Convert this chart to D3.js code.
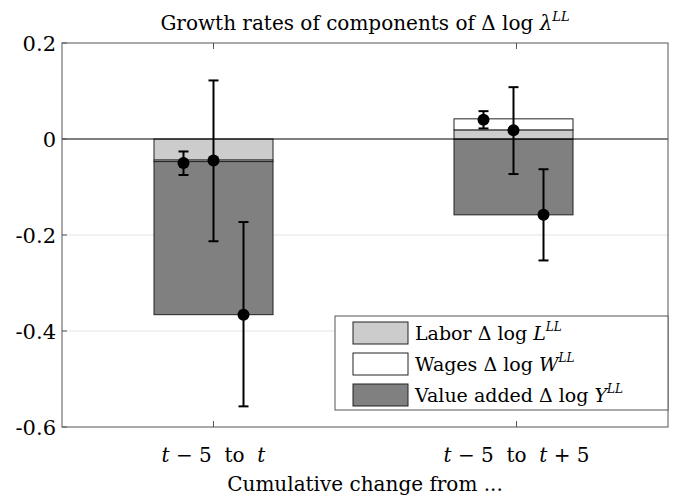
<!DOCTYPE html>
<html><head><meta charset="utf-8">
<script src="https://cdn.jsdelivr.net/npm/d3@7"></script>
<style>
body{margin:0;background:#fff}
svg text{font-family:'DejaVu Serif','Liberation Serif','Times New Roman',serif;fill:#000;white-space:pre}
.m{font-style:italic}
</style></head><body>
<svg id="c" width="676" height="497"></svg>
<script>
var categories = ["t5t", "t5t5"];
// stacked segments [from, to] per category
var laborSeg = [[0, -0.044], [0, 0.019]];
var wagesSeg = [[-0.044, -0.047], [0.019, 0.042]];
var valueSeg = [[-0.047, -0.366], [0, -0.158]];
// point estimates and bounds
var laborPt = [-0.05, 0.04], laborLo = [-0.075, 0.022], laborHi = [-0.026, 0.058];
var wagesPt = [-0.045, 0.018], wagesLo = [-0.213, -0.073], wagesHi = [0.122, 0.108];
var valuePt = [-0.366, -0.158], valueLo = [-0.557, -0.253], valueHi = [-0.173, -0.063];
var yTicks = [0.2, 0, -0.2, -0.4, -0.6];

var L = 62, R = 668, T = 43, B = 427;
var svg = d3.select("#c");
var x = d3.scaleLinear().domain([0.5, 2.5]).range([L, R]);
var y = d3.scaleLinear().domain([-0.6, 0.2]).range([B, T]);

// grid
svg.selectAll(".g").data([-0.2, -0.4]).enter().append("line")
  .attr("x1", L).attr("x2", R).attr("y1", d => y(d)).attr("y2", d => y(d))
  .attr("stroke", "#e3e3e3");

var bw = 119;
function seg(data, fill) {
  svg.append("g").selectAll("rect").data(data).enter().append("rect")
    .attr("x", (d, i) => x(i + 1) - bw / 2 - (i ? 3 : 0)).attr("width", bw)
    .attr("y", d => y(Math.max(d[0], d[1])))
    .attr("height", d => Math.abs(y(d[0]) - y(d[1])))
    .attr("fill", fill).attr("stroke", "#222").attr("stroke-width", 1);
}
seg(valueSeg, "#808080");
seg(laborSeg, "#cccccc");
seg(wagesSeg, "#ffffff");

// zero line
svg.append("line").attr("x1", L).attr("x2", R).attr("y1", y(0)).attr("y2", y(0))
  .attr("stroke", "#000").attr("stroke-width", 1);

function pts(pt, lo, hi, off) {
  var g = svg.append("g");
  pt.forEach(function(v, i) {
    var cx = x(i + 1) + off - (i ? 3 : 0);
    g.append("line").attr("x1", cx).attr("x2", cx).attr("y1", y(lo[i])).attr("y2", y(hi[i]))
      .attr("stroke", "#000").attr("stroke-width", 2);
    [lo[i], hi[i]].forEach(function(e) {
      g.append("line").attr("x1", cx - 5).attr("x2", cx + 5).attr("y1", y(e)).attr("y2", y(e))
        .attr("stroke", "#000").attr("stroke-width", 2);
    });
    g.append("circle").attr("cx", cx).attr("cy", y(v)).attr("r", 6).attr("fill", "#000");
  });
}
pts(laborPt, laborLo, laborHi, -30);
pts(wagesPt, wagesLo, wagesHi, 0);
pts(valuePt, valueLo, valueHi, 30);

// frame
svg.append("rect").attr("x", L).attr("y", T).attr("width", R - L).attr("height", B - T)
  .attr("fill", "none").attr("stroke", "#555");
svg.selectAll(".yt").data(yTicks).enter().append("text")
  .attr("x", L - 6).attr("y", d => y(d) + 8).attr("text-anchor", "end")
  .attr("font-size", 21).text(d => d === 0 ? "0" : d3.format(".1f")(d).replace("\u2212", "-"));
svg.selectAll(".yk").data(yTicks).enter().append("line")
  .attr("x1", L).attr("x2", L + 5).attr("y1", d => y(d)).attr("y2", d => y(d)).attr("stroke", "#555");
[1, 2].forEach(function(c) {
  svg.append("line").attr("x1", x(c)).attr("x2", x(c)).attr("y1", B).attr("y2", B - 6).attr("stroke", "#555");
  svg.append("line").attr("x1", x(c)).attr("x2", x(c)).attr("y1", T).attr("y2", T + 6).attr("stroke", "#555");
});

// x labels
var xl1 = svg.append("text").attr("x", x(1)).attr("y", 462).attr("text-anchor", "middle").attr("font-size", 20);
xl1.append("tspan").attr("class", "m").text("t");
xl1.append("tspan").text(" \u2212 5  to  ");
xl1.append("tspan").attr("class", "m").text("t");
var xl2 = svg.append("text").attr("x", x(2)).attr("y", 462).attr("text-anchor", "middle").attr("font-size", 20);
xl2.append("tspan").attr("class", "m").text("t");
xl2.append("tspan").text(" \u2212 5  to  ");
xl2.append("tspan").attr("class", "m").text("t");
xl2.append("tspan").text(" + 5");
svg.append("text").attr("x", (L + R) / 2).attr("y", 491).attr("text-anchor", "middle")
  .attr("font-size", 20).text("Cumulative change from ...");

// title
var tt = svg.append("text").attr("x", (L + R) / 2).attr("y", 30).attr("text-anchor", "middle").attr("font-size", 20);
tt.append("tspan").text("Growth rates of components of \u0394 log ");
tt.append("tspan").attr("class", "m").text("\u03bb");
tt.append("tspan").attr("class", "m").attr("font-size", 13).attr("dy", -9).text("LL");

// legend
var lg = svg.append("g").attr("transform", "translate(335,316)");
lg.append("rect").attr("width", 333).attr("height", 94).attr("fill", "#fff").attr("stroke", "#555");
var legItems = [["Labor", "L", "#cccccc"], ["Wages", "W", "#ffffff"], ["Value added", "Y", "#808080"]];
legItems.forEach(function(d, i) {
  var yy = 6 + i * 31;
  lg.append("rect").attr("x", 18).attr("y", yy).attr("width", 55).attr("height", 22)
    .attr("fill", d[2]).attr("stroke", "#222");
  var t = lg.append("text").attr("x", 80).attr("y", yy + 18).attr("font-size", 19);
  t.append("tspan").text(d[0] + " \u0394 log ");
  t.append("tspan").attr("class", "m").text(d[1]);
  t.append("tspan").attr("class", "m").attr("font-size", 12).attr("dy", -9).text("LL");
});
</script></body></html>
